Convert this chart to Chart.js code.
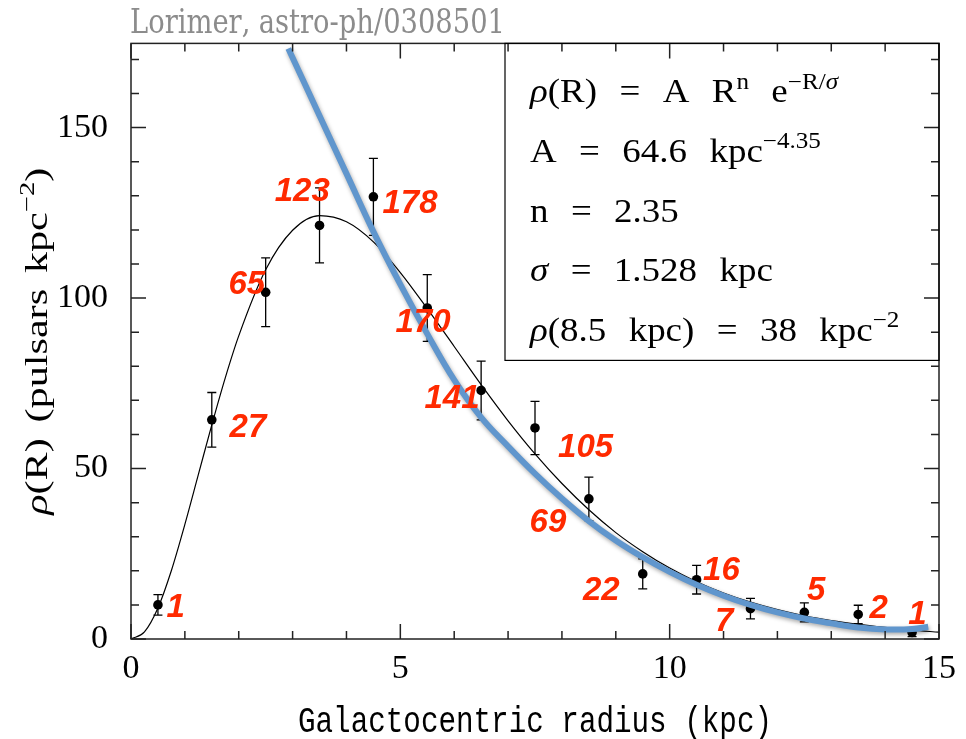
<!DOCTYPE html>
<html>
<head>
<meta charset="utf-8">
<script src="https://cdn.jsdelivr.net/npm/chart.js@4.4.1/dist/chart.umd.min.js"></script>
<style>
  html, body { margin: 0; padding: 0; background: #fff; }
  #wrap { width: 966px; height: 739px; }
</style>
</head>
<body>
<div id="wrap"><canvas id="myChart"></canvas></div>
<script>
// Binned surface density (pulsars kpc^-2) with error bars
const binCentres = [0.5, 1.5, 2.5, 3.5, 4.5, 5.5, 6.5, 7.5, 8.5, 9.5, 10.5, 11.5, 12.5, 13.5, 14.5];
const density = [10, 64.3, 101.7, 121.3, 129.7, 97.1, 72.9, 61.9, 41.1, 19.1, 17.4, 8.9, 7.8, 7.2, 1.9];
const densityErr = [3, 8, 10.1, 11, 11.3, 9.8, 8.6, 7.8, 6.4, 4.4, 4.2, 3, 2.8, 2.7, 1.2];

// Thin black fitted curve
const fitR = [0, 0.25, 0.5, 0.75, 1, 1.25, 1.5, 1.75, 2, 2.5, 3, 3.5, 4, 4.5, 5, 5.5, 6, 6.5, 7, 7.5,
  8, 8.5, 9, 9.5, 10, 10.5, 11, 11.5, 12, 12.5, 13, 13.5, 14, 14.5, 15];
const fitRho = [0, 2.1, 9.1, 20.1, 33.6, 48.2, 62.8, 76.6, 88.9, 108.3, 119.9, 124.2, 122.4, 116.5, 107.5, 96.9, 85.8, 74.6, 64.0, 54.3,
  45.6, 37.9, 31.2, 25.6, 20.8, 16.8, 13.5, 10.8, 8.6, 6.8, 5.4, 4.3, 3.4, 2.6, 2.0];

// Thick blue curve
const blueR = [2.92, 3.5, 4, 4.5, 5, 5.5, 6, 6.5, 7, 7.5, 8, 8.5, 9, 9.5, 10, 10.5, 11, 11.5, 12, 12.5, 13, 13.5, 14, 14.5, 14.8];
const blueRho = [173.2, 153.5, 136.5, 119.5, 104, 89.5, 76, 65, 56.5, 48.5, 41.2, 34.6, 28.9, 24, 19.7, 15.9, 12.7, 10, 7.8, 6.0, 4.6, 3.4, 2.8, 2.9, 3.6];

// Pulsar counts per bin, and where each number sits (data coords)
const countLabels = ['1', '27', '65', '123', '178', '170', '141', '105', '69', '22', '16', '7', '5', '2', '1'];
const countX = [0.83, 2.17, 2.15, 3.18, 5.18, 5.42, 5.96, 8.44, 7.74, 8.73, 10.96, 11.01, 12.72, 13.88, 14.6];
const countY = [9.0, 61.9, 103.8, 131.1, 127.6, 92.7, 70.3, 56.1, 34.0, 14.2, 20.1, 4.9, 14.0, 8.7, 7.0];

const xTicks = [0, 5, 10, 15];
const yTicks = [0, 50, 100, 150];

const legendLines = [
  'ρ(R) = A R^{n} e^{−R/σ}',
  'A = 64.6 kpc^{−4.35}',
  'n = 2.35',
  'σ = 1.528 kpc',
  'ρ(8.5 kpc) = 38 kpc^{−2}'
];

// draws text with ^{..} superscripts, spaces as fixed gaps; returns width
function richText(ctx, str, o, draw) {
  const runs = [];
  str.replace(/\^\{([^}]*)\}|([^^]+)/g, (m, sup, base) => {
    runs.push(sup !== undefined ? { t: sup, sup: true } : { t: base, sup: false });
  });
  ctx.save();
  ctx.translate(o.x || 0, o.y || 0);
  if (o.rot) ctx.rotate(o.rot);
  ctx.scale(o.sx || 1, o.sy || 1);
  ctx.fillStyle = o.color || '#000';
  ctx.textBaseline = 'alphabetic';
  ctx.textAlign = 'left';
  let cx = 0;
  for (const r of runs) {
    const size = r.sup ? o.size * 0.68 : o.size;
    const dy = r.sup ? -o.size * 0.42 : 0;
    for (const ch of r.t) {
      if (ch === ' ') { cx += o.gap; continue; }
      const ital = /[ρσ]/.test(ch);
      ctx.font = (ital ? 'italic ' : '') + size + 'px ' + o.family;
      if (draw) ctx.fillText(ch, cx, dy);
      cx += ctx.measureText(ch).width;
    }
  }
  ctx.restore();
  return cx;
}

const decorPlugin = {
  id: 'decor',
  beforeDatasetDraw(chart, args) {
    const ctx = chart.ctx;
    const ds = chart.data.datasets[args.index];
    if (ds.id === 'blue') {
      ctx.save();
      ctx.shadowColor = 'rgba(0,0,0,0.35)';
      ctx.shadowBlur = 4;
      ctx.shadowOffsetX = 1;
      ctx.shadowOffsetY = 2;
    }
    if (ds.id === 'points') {
      const xs = chart.scales.x, ys = chart.scales.y;
      ctx.save();
      ctx.strokeStyle = '#000';
      ctx.lineWidth = 1.3;
      binCentres.forEach((r, i) => {
        const px = xs.getPixelForValue(r);
        const y1 = ys.getPixelForValue(density[i] + densityErr[i]);
        const y2 = ys.getPixelForValue(density[i] - densityErr[i]);
        ctx.beginPath();
        ctx.moveTo(px, y1); ctx.lineTo(px, y2);
        ctx.moveTo(px - 4.5, y1); ctx.lineTo(px + 4.5, y1);
        ctx.moveTo(px - 4.5, y2); ctx.lineTo(px + 4.5, y2);
        ctx.stroke();
      });
      ctx.restore();
    }
  },
  afterDatasetDraw(chart, args) {
    if (chart.data.datasets[args.index].id === 'blue') chart.ctx.restore();
  },
  afterDraw(chart) {
    const ctx = chart.ctx;
    const a = chart.chartArea;
    const xs = chart.scales.x, ys = chart.scales.y;

    // frame and inward ticks
    ctx.save();
    ctx.strokeStyle = '#222';
    ctx.lineWidth = 1.5;
    ctx.strokeRect(a.left, a.top, a.right - a.left, a.bottom - a.top);
    ctx.beginPath();
    for (let v = 0; v <= 15; v++) {
      const px = xs.getPixelForValue(v);
      const len = v % 5 === 0 ? 15 : 8;
      ctx.moveTo(px, a.bottom); ctx.lineTo(px, a.bottom - len);
      ctx.moveTo(px, a.top); ctx.lineTo(px, a.top + len);
    }
    for (let v = 0; v <= 170; v += 10) {
      const py = ys.getPixelForValue(v);
      const len = v % 50 === 0 ? 15 : 8;
      ctx.moveTo(a.left, py); ctx.lineTo(a.left + len, py);
      ctx.moveTo(a.right, py); ctx.lineTo(a.right - len, py);
    }
    ctx.stroke();

    // formula box
    const bx = a.right - 434, by = a.top, bh = 317;
    ctx.lineWidth = 1.2;
    ctx.strokeStyle = '#000';
    ctx.strokeRect(bx, by, a.right - bx, bh);
    ctx.restore();
    legendLines.forEach((s, i) => {
      richText(ctx, s, { x: bx + 25, y: by + 59 + i * 59.6, size: 33, family: '"Liberation Serif"', gap: 20, sx: 1.12 }, true);
    });

    // pulsar counts
    ctx.save();
    ctx.fillStyle = '#ff2a00';
    ctx.font = 'italic bold 33px "Liberation Sans"';
    ctx.textAlign = 'center';
    ctx.textBaseline = 'middle';
    countLabels.forEach((t, i) => {
      ctx.fillText(t, xs.getPixelForValue(countX[i]), ys.getPixelForValue(countY[i]));
    });
    ctx.restore();

    // title
    const title = 'Lorimer, astro-ph/0308501';
    const tOpt = { x: a.left - 1, y: 33, size: 33, family: '"DejaVu Serif"', gap: 10, color: '#8c8c8c' };
    const tw = richText(ctx, title, tOpt, false);
    tOpt.sx = 375 / tw;
    richText(ctx, title, tOpt, true);

    // x axis title
    const xt = 'Galactocentric radius (kpc)';
    ctx.save();
    ctx.font = '37px "Liberation Mono"';
    const xsx = 474 / ctx.measureText(xt).width;
    ctx.translate((a.left + a.right) / 2 - 237, 732);
    ctx.scale(xsx, 1);
    ctx.fillStyle = '#000';
    ctx.textBaseline = 'alphabetic';
    ctx.fillText(xt, 0, 0);
    ctx.restore();

    // y axis title
    const yt = 'ρ(R) (pulsars kpc^{−2})';
    const yOpt = { x: 47, y: 0, size: 32, family: '"Liberation Serif"', gap: 12, rot: -Math.PI / 2 };
    const yw = richText(ctx, yt, yOpt, false);
    yOpt.sx = 347 / yw;
    yOpt.y = (a.top + a.bottom) / 2 + 347 / 2;
    richText(ctx, yt, yOpt, true);
  }
};

const ctx = document.getElementById('myChart').getContext('2d');
new Chart(ctx, {
  type: 'line',
  data: {
    datasets: [
      {
        id: 'blue',
        data: blueR.map((r, i) => ({ x: r, y: blueRho[i] })),
        borderColor: '#6096cd',
        borderWidth: 6,
        pointRadius: 0,
        tension: 0.4,
        order: 1
      },
      {
        id: 'points',
        data: binCentres.map((r, i) => ({ x: r, y: density[i] })),
        showLine: false,
        pointRadius: 4.8,
        pointBackgroundColor: '#000',
        pointBorderColor: '#000',
        pointBorderWidth: 0,
        order: 2
      },
      {
        id: 'fit',
        data: fitR.map((r, i) => ({ x: r, y: fitRho[i] })),
        borderColor: '#000',
        borderWidth: 1.2,
        pointRadius: 0,
        cubicInterpolationMode: 'monotone',
        order: 3
      }
    ]
  },
  options: {
    responsive: true,
    maintainAspectRatio: false,
    animation: false,
    layout: { autoPadding: false, padding: { left: 0, right: 19, top: 38, bottom: 0 } },
    plugins: { legend: { display: false }, tooltip: { enabled: false } },
    scales: {
      x: {
        type: 'linear',
        min: 0,
        max: 15,
        afterBuildTicks: s => { s.ticks = xTicks.map(v => ({ value: v })); },
        afterFit: s => { s.height = 100; },
        grid: { display: false, drawTicks: false },
        border: { display: false },
        ticks: { padding: 10, color: '#000', font: { family: '"Liberation Serif"', size: 34 } }
      },
      y: {
        type: 'linear',
        min: 0,
        max: 174.7,
        afterBuildTicks: s => { s.ticks = yTicks.map(v => ({ value: v })); },
        afterFit: s => { s.width = 131; },
        grid: { display: false, drawTicks: false },
        border: { display: false },
        ticks: { padding: 23, color: '#000', font: { family: '"Liberation Serif"', size: 34 } }
      }
    }
  },
  plugins: [decorPlugin]
});
</script>
</body>
</html>
